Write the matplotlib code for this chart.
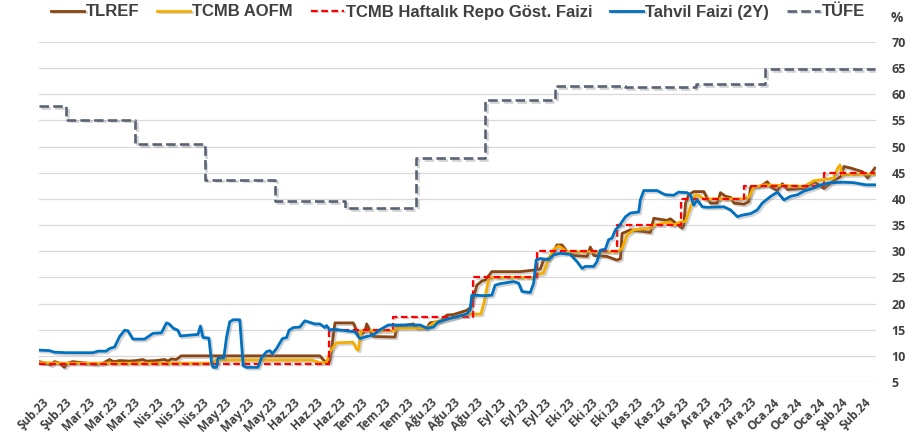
import matplotlib
matplotlib.use("Agg")
import matplotlib.pyplot as plt
import matplotlib.patheffects as pe
import numpy as np

# x axis: calendar days counted from the first tick (17 Feb 2023), one tick every 10 days
tick_days = np.arange(0, 370, 10)
tick_labels = [
    "Şub.23", "Şub.23", "Mar.23", "Mar.23", "Mar.23", "Nis.23", "Nis.23", "Nis.23",
    "May.23", "May.23", "May.23", "Haz.23", "Haz.23", "Haz.23", "Tem.23", "Tem.23",
    "Tem.23", "Ağu.23", "Ağu.23", "Ağu.23", "Eyl.23", "Eyl.23", "Eyl.23", "Eki.23",
    "Eki.23", "Eki.23", "Kas.23", "Kas.23", "Kas.23", "Ara.23", "Ara.23", "Ara.23",
    "Oca.24", "Oca.24", "Oca.24", "Şub.24", "Şub.24",
]
y_ticks = list(range(5, 75, 5))

# annual CPI, step changes at month ends
tufe_days = [-1.5, 10.5, 40.5, 71, 102, 132.5, 163.5, 194, 224.5, 255, 286, 316.5, 347.5, 364.5]
tufe_vals = [57.68, 55.18, 50.51, 43.68, 39.59, 38.21, 47.83, 58.94, 61.53, 61.36, 61.98,
             64.77, 64.86, 64.86]

# one-week repo (policy) rate, step changes at MPC decisions
repo_days = [-1.5, 125.4, 153.4, 188.4, 216.4, 251.4, 279.4, 307.4, 342.4, 364.5]
repo_vals = [8.5, 15, 17.5, 25, 30, 35, 40, 42.5, 45, 45]

tlref_days = [-1.5, 1.6, 3.8, 5.3, 7.5, 9.6, 11.1, 13.3, 16.2, 19.2, 23.5, 26.5, 29.4, 30.6,
              31.6, 33.8, 38.2, 41.1, 44.0, 45.5, 49.9, 53.5, 55.0, 56.4, 58.6, 60.8, 121.5,
              123.7, 125.9, 128.1, 136.1, 136.8, 138.3, 141.2, 142.0, 143.4, 144.9, 154.4,
              155.1, 162.4, 163.9, 168.3, 169.7, 174.1, 177.1, 180.0, 182.9, 185.8, 187.3,
              188.7, 190.2, 192.4, 193.9, 196.8, 209.2, 215.1, 218.0, 219.4, 221.6, 223.8,
              225.3, 227.5, 229.7, 232.6, 238.5, 239.9, 241.4, 247.2, 251.6, 253.1, 253.8,
              257.5, 266.2, 267.7, 273.5, 275.0, 278.6, 280.1, 280.8, 281.6, 283.0, 285.2,
              289.6, 291.1, 292.5, 295.5, 296.9, 299.1, 301.3, 302.8, 307.2, 309.3, 310.1,
              314.5, 317.4, 318.9, 321.8, 324.0, 326.2, 333.5, 337.9, 342.2, 346.6, 349.6,
              351.0, 353.9, 359.1, 361.3, 364.5]
tlref_vals = [8.9, 8.6, 8.25, 8.9, 8.6, 7.8, 8.6, 8.9, 8.75, 8.6, 8.4, 8.6, 9.3, 9.0,
              8.9, 9.1, 9.0, 9.1, 9.3, 9.0, 9.1, 9.3, 9.0, 9.4, 9.3, 10.0, 10.0,
              8.9, 9.1, 16.3, 16.3, 15.6, 13.7, 14.7, 16.1, 14.7, 13.7, 13.6,
              15.6, 16.1, 15.3, 15.3, 16.3, 16.6, 17.8, 17.9, 18.3, 18.7, 19.2,
              21.0, 23.5, 24.3, 24.5, 26.1, 26.1, 26.4, 26.6, 28.3, 28.6, 29.9,
              31.2, 31.2, 29.9, 29.2, 29.0, 30.8, 29.2, 29.0, 28.3, 28.6, 33.4,
              34.1, 33.6, 36.3, 35.9, 36.2, 34.9, 34.4, 34.9, 39.2, 40.8, 41.4,
              41.4, 40.1, 39.2, 39.2, 41.2, 40.5, 40.3, 39.2, 39.0, 39.5, 42.3,
              42.4, 43.3, 42.3, 41.6, 42.9, 41.8, 42.0, 43.3, 42.0, 43.5, 44.3,
              46.2, 45.9, 45.2, 44.0, 45.9]

aofm_days = [-1.5, 10, 30, 50, 74, 76, 100, 118, 121.5, 124.4, 125.9, 128.8, 136.0, 137.5,
             138.3, 139.5, 154.4, 155.1, 168.3, 172.0, 177.1, 181.4, 185.8, 192.0, 193.5,
             195.3, 197.0, 215.1, 216.5, 219.4, 221.6, 223.8, 226.0, 227.5, 229.7, 251.6,
             253.8, 256.0, 258.9, 266.2, 268.0, 274.2, 276.4, 279.3, 281.6, 283.8, 286.0,
             288.0, 289.6, 307.2, 309.3, 311.5, 315.9, 333.5, 337.9, 342.2, 346.6, 348.1,
             349.2, 350.2, 364.5]
aofm_vals = [8.7, 8.6, 8.6, 8.6, 8.6, 9.2, 9.2, 9.2, 8.7, 8.7, 10.8, 12.5, 12.6, 11.3,
             11.1, 14.8, 14.8, 15.3, 15.3, 16.5, 17.0, 17.5, 18.0, 18.0, 20.5,
             24.5, 25.0, 25.0, 25.6, 25.8, 28.5, 30.3, 31.0, 30.6, 29.9, 29.9,
             30.5, 33.1, 34.1, 34.4, 35.0, 35.6, 35.0, 35.6, 35.7, 38.5, 40.8,
             40.5, 40.0, 40.0, 40.3, 42.2, 42.7, 42.4, 43.5, 43.7, 44.0, 45.8,
             46.5, 44.6, 44.8]

tahvil_days = [-1.5, 3.1, 5.3, 10.4, 22.1, 24.3, 27.9, 29.4, 31.6, 33.8, 36.0, 37.4, 39.6,
               44.7, 48.4, 52.1, 54.3, 55.5, 57.2, 59.3, 60.4, 65.9, 68.1, 69.2, 70.3, 72.9,
               74.0, 74.7, 76.2, 76.9, 79.4, 80.6, 82.0, 83.5, 86.4, 87.9, 89.3, 94.4, 95.9,
               98.1, 99.6, 100.7, 102.5, 105.1, 106.9, 108.0, 109.8, 112.7, 114.9, 117.1,
               119.3, 121.5, 123.7, 124.4, 125.9, 127.3, 133.2, 136.8, 139.0, 142.0, 144.9,
               147.8, 151.5, 158.0, 165.4, 168.3, 171.2, 173.4, 177.1, 181.4, 185.8, 187.3,
               188.0, 193.9, 196.8, 198.2, 200.4, 206.3, 208.5, 210.0, 213.6, 215.1, 216.2,
               218.0, 221.6, 223.8, 226.8, 231.1, 234.1, 236.3, 237.7, 241.4, 242.8, 244.3,
               246.5, 247.9, 249.4, 250.9, 252.3, 255.3, 257.5, 261.1, 261.8, 263.3, 269.2,
               271.3, 272.8, 276.4, 278.6, 282.3, 283.8, 285.2, 286.7, 288.9, 291.1, 298.4,
               301.3, 304.3, 306.4, 310.1, 313.0, 315.2, 318.9, 321.8, 324.7, 327.6, 330.6,
               333.5, 337.9, 340.8, 345.2, 351.0, 355.4, 360.5, 364.5]
tahvil_vals = [11.1, 11.0, 10.7, 10.6, 10.6, 10.9, 10.9, 11.4, 11.7, 13.7, 14.9, 14.8, 13.2,
               13.2, 14.3, 14.4, 16.3, 16.1, 15.3, 14.9, 13.8, 14.0, 14.1, 15.7, 13.5, 13.4,
               8.9, 7.8, 7.8, 9.6, 9.6, 13.5, 16.5, 16.9, 16.9, 8.1, 7.8, 7.8, 9.6,
               10.8, 11.0, 10.4, 11.4, 13.3, 13.5, 14.9, 15.4, 15.5, 16.7, 16.4,
               16.1, 16.1, 15.4, 15.8, 14.9, 15.1, 14.8, 14.6, 13.3, 13.7, 14.0,
               15.0, 15.9, 15.9, 15.9, 15.3, 15.5, 16.5, 17.0, 17.5, 18.0, 18.8,
               21.6, 21.5, 21.6, 23.5, 23.8, 24.2, 23.9, 22.3, 22.1, 23.9, 28.3,
               28.6, 28.4, 29.3, 29.6, 29.4, 28.0, 26.7, 27.1, 27.1, 28.0, 30.2,
               30.4, 32.2, 32.5, 34.1, 34.7, 36.6, 37.3, 37.5, 39.8, 41.6, 41.6,
               41.1, 40.8, 40.7, 41.3, 41.2, 40.7, 38.8, 39.8, 38.5, 38.4, 38.5,
               37.9, 36.6, 36.9, 37.2, 37.9, 39.2, 40.5, 41.3, 39.8, 40.5, 40.8,
               41.5, 42.1, 42.7, 43.1, 43.2, 43.1, 42.7, 42.7]

TEXT = "#404040"
shadow = [pe.SimpleLineShadow(offset=(1.3, -1.3), shadow_color="#7f7f7f", alpha=0.35), pe.Normal()]

fig = plt.figure(figsize=(9.16, 4.42), dpi=100)
ax = fig.add_axes([39 / 916, 1 - 382 / 442, 837 / 916, 340 / 442])

h1, = ax.plot(tlref_days, tlref_vals, color="#8B4513", lw=2.0, label="TLREF", path_effects=shadow)
h2, = ax.plot(aofm_days, aofm_vals, color="#F5AE00", lw=2.0, label="TCMB AOFM", path_effects=shadow)
h3, = ax.plot(repo_days, repo_vals, color="#FF0000", lw=1.6, ls=(0, (3, 1.6)), drawstyle="steps-post",
              label="TCMB Haftalık Repo Göst. Faizi", path_effects=shadow)
h4, = ax.plot(tahvil_days, tahvil_vals, color="#0070C0", lw=2.0, label="Tahvil Faizi (2Y)",
              path_effects=shadow)
h5, = ax.plot(tufe_days, tufe_vals, color="#5A6376", lw=1.9, ls=(0, (3.6, 1.6)), drawstyle="steps-post",
              label="TÜFE", path_effects=shadow)

ax.set_xlim(-1.5, 365)
ax.set_ylim(5, 70)
ax.set_yticks(y_ticks)
ax.yaxis.tick_right()
ax.set_xticks(tick_days)
ax.set_xticklabels(tick_labels, rotation=45, ha="right", rotation_mode="anchor",
                   fontsize=8.5, fontweight="bold", color=TEXT, family="Open Sans")
for lbl in ax.get_yticklabels():
    lbl.set_fontsize(9)
    lbl.set_fontweight("bold")
    lbl.set_color(TEXT)
    lbl.set_family("Open Sans")
ax.tick_params(axis="both", length=0)
ax.tick_params(axis="x", pad=10)
ax.tick_params(axis="y", pad=11)
ax.grid(axis="y", color="#D9D9D9", lw=0.9)
ax.set_axisbelow(True)
for sp in ax.spines.values():
    sp.set_visible(False)

fig.text(897 / 916, 1 - 18 / 442, "%", ha="center", va="center", fontsize=10,
         fontweight="bold", color=TEXT, family="Open Sans")

fig.legend(handles=[h1, h2, h3, h4, h5], loc="center", bbox_to_anchor=(0.5, 1 - 12 / 442),
           ncol=5, frameon=False, handlelength=2.0, handletextpad=0.12, columnspacing=1.05,
           borderaxespad=0, labelcolor=TEXT,
           prop={"family": "Liberation Sans", "weight": "bold", "size": 12})

fig.savefig("out.png", dpi=100)
